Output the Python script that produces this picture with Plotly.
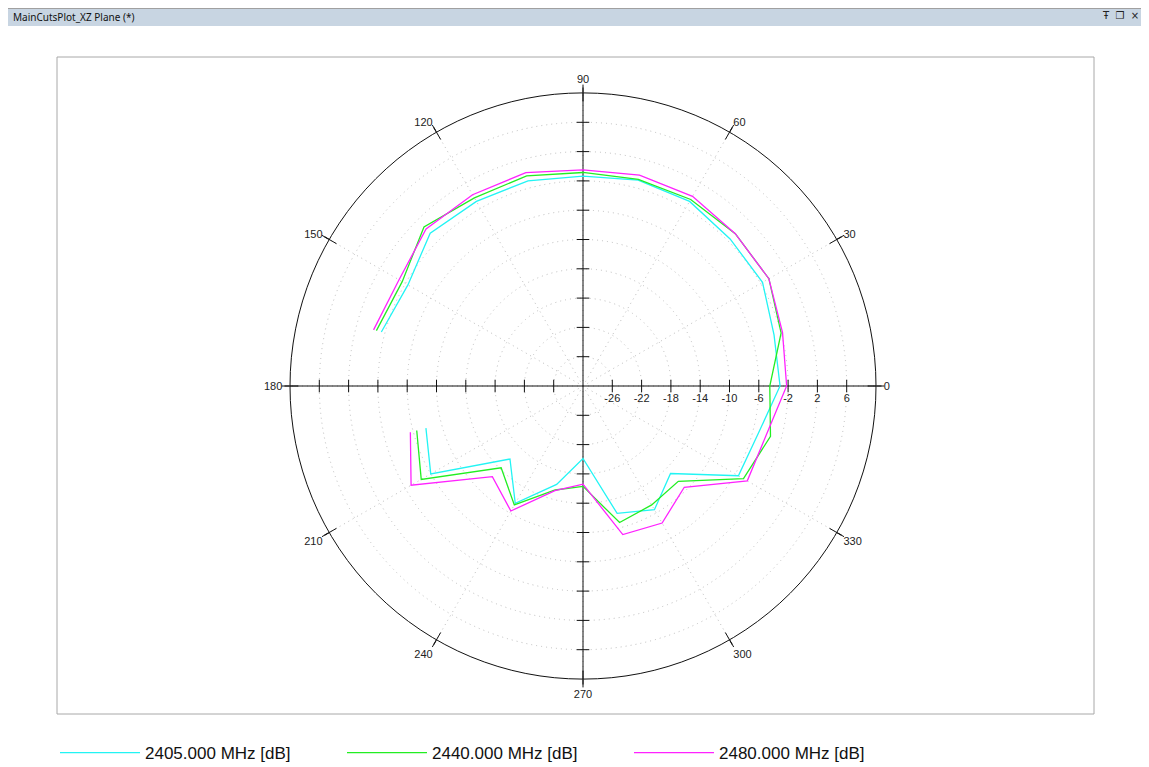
import plotly.graph_objects as go

# ---- data ----
theta_deg = [-165, -150, -135, -120, -105, -90, -75, -60, -45, -30, -15, 0,
             15, 30, 45, 60, 75, 90, 105, 120, 135, 150, 165]
gain_2405 = [-7.8, -6.0, -15.9, -11.5, -16.1, -20.1, -12.0, -10.5, -13.1, -5.5, -5.2, -3.1,
             -3.0, -1.7, -1.6, -0.9, -0.9, -1.35, -1.0, -0.9, -0.5, -2.4, -1.5]
gain_2440 = [-6.5, -4.5, -14.2, -11.25, -15.3, -16.3, -10.7, -11.25, -11.6, -4.7, -3.5, -4.5,
             -2.0, -0.7, -0.6, -0.6, -0.8, -0.85, -0.3, -0.35, 0.7, -1.5, -0.8]
gain_2480 = [-5.6, -2.9, -12.5, -10.3, -15.2, -16.6, -9.0, -8.4, -10.45, -4.1, -4.1, -2.2,
             -1.8, -0.7, -0.6, -0.1, -0.2, -0.5, 0.15, 0.15, 0.3, -1.0, -0.4]
series_names = ["2405.000 MHz [dB]", "2440.000 MHz [dB]", "2480.000 MHz [dB]"]
series_colors = ["#22f4f4", "#22ee22", "#ff22ff"]

r_range = [-30, 10]
r_ticks = [-26, -22, -18, -14, -10, -6, -2, 2, 6]
r_ticktext = [str(v) for v in r_ticks]
ang_ticks = [0, 30, 60, 90, 120, 150, 180, 210, 240, 270, 300, 330]
axis_arms = [0, 90, 180, 270]

# page has an 8px body margin, so the figure is laid out in page coords minus 8
OFF = 8
W, H = 1149 - OFF, 767 - OFF
cx, cy, R = 583 - OFF, 386 - OFF, 293


def px(x):
    return (x - OFF) / W


def py(y):
    return 1 - (y - OFF) / H


fig = go.Figure()

# cross axes through the centre
for a, b in [(0, 180), (90, 270)]:
    fig.add_trace(go.Scatterpolar(r=[r_range[1], r_range[0], r_range[1]], theta=[a, a, b],
                                  mode="lines", line=dict(color="#111111", width=1),
                                  showlegend=False, hoverinfo="skip", cliponaxis=False))
# tick marks on the four arms
for arm in axis_arms:
    fig.add_trace(go.Scatterpolar(r=r_ticks, theta=[arm] * len(r_ticks), mode="markers",
                                  marker=dict(symbol="line-ns" if arm in (0, 180) else "line-ew",
                                              size=9, line=dict(color="#111111", width=1)),
                                  showlegend=False, hoverinfo="skip", cliponaxis=False))
# crossing ticks on the outer circle
fig.add_trace(go.Scatterpolar(r=[r_range[1]] * len(ang_ticks), theta=ang_ticks, mode="markers",
                              marker=dict(symbol="line-ew", size=12, angle=[-t for t in ang_ticks],
                                          line=dict(color="#111111", width=1)),
                              showlegend=False, hoverinfo="skip", cliponaxis=False))

for name, col, vals in zip(series_names, series_colors, [gain_2405, gain_2440, gain_2480]):
    fig.add_trace(go.Scatterpolar(r=vals, theta=theta_deg, mode="lines", name=name,
                                  line=dict(color=col, width=1.3)))

grid_dash = "1px,4px"
fig.update_layout(
    width=W, height=H,
    margin=dict(l=0, r=0, t=0, b=0, autoexpand=False),
    paper_bgcolor="white",
    font=dict(family="Liberation Sans, Arial, sans-serif", color="#222222", size=11),
    polar=dict(
        domain=dict(x=[(cx - R) / W, (cx + R) / W], y=[(H - cy - R) / H, (H - cy + R) / H]),
        bgcolor="white",
        radialaxis=dict(range=r_range, tickvals=r_ticks, ticktext=r_ticktext,
                        ticks="outside", ticklen=2, tickcolor="rgba(0,0,0,0)",
                        showline=False, angle=0, tickangle=0, side="clockwise",
                        showgrid=True, gridcolor="#bdbdbd", griddash=grid_dash, gridwidth=1,
                        tickfont=dict(size=11, color="#222222")),
        angularaxis=dict(tickvals=ang_ticks, direction="counterclockwise", rotation=0,
                         ticks="outside", ticklen=5, tickcolor="#111111",
                         showline=True, linecolor="#111111", linewidth=1,
                         showgrid=True, gridcolor="#bdbdbd", griddash=grid_dash, gridwidth=1,
                         tickfont=dict(size=11, color="#222222")),
    ),
    showlegend=True,
    legend=dict(orientation="h", x=px(55), xanchor="left", y=py(753), yanchor="middle",
                font=dict(size=17, color="#111111"), itemwidth=80,
                entrywidth=192, entrywidthmode="pixels", bgcolor="rgba(0,0,0,0)",
                traceorder="normal"),
    shapes=[
        dict(type="rect", xref="paper", yref="paper", x0=0, x1=1, y0=py(26), y1=1,
             fillcolor="#c8d5e2", line=dict(width=0), layer="below"),
        dict(type="line", xref="paper", yref="paper", x0=0, x1=1, y0=py(8.5), y1=py(8.5),
             line=dict(color="#a0a0a0", width=1)),
        dict(type="line", xref="paper", yref="paper", x0=px(1143), x1=px(1143), y0=0, y1=py(26),
             line=dict(color="#e4e4e4", width=1)),
        dict(type="rect", xref="paper", yref="paper", x0=px(57), x1=px(1094),
             y0=py(714), y1=py(57), line=dict(color="#a8a8a8", width=1), layer="below"),
    ],
    annotations=[
        dict(text="MainCutsPlot_XZ Plane (*)", xref="paper", yref="paper", x=px(11), y=py(17),
             xanchor="left", yanchor="middle", showarrow=False,
             font=dict(family="Noto Sans, DejaVu Sans, sans-serif", size=10, color="#111111")),
        dict(text="Ŧ  ❐  ×", xref="paper", yref="paper", x=px(1141), y=py(16),
             xanchor="right", yanchor="middle", showarrow=False,
             font=dict(family="DejaVu Sans, sans-serif", size=10, color="#222222")),
    ],
)

fig.write_html("out.html")
